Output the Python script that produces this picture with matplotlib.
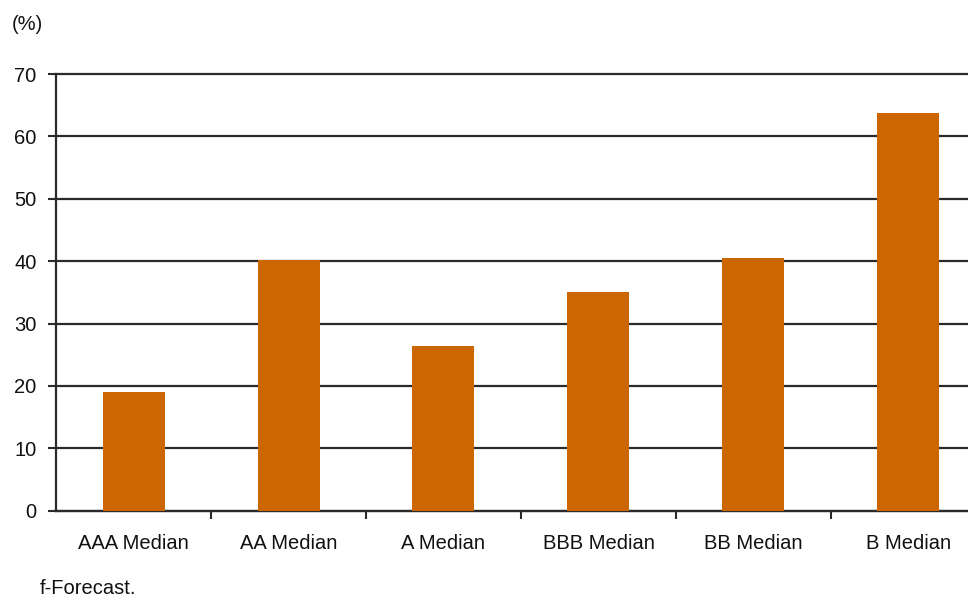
import numpy as np
import matplotlib.pyplot as plt
from matplotlib.ticker import FixedLocator

plt.rcParams['font.family'] = ['Liberation Sans', 'DejaVu Sans']

categories = ['AAA Median', 'AA Median', 'A Median', 'BBB Median', 'BB Median', 'B Median']
values = [19.1, 40.2, 26.4, 35.1, 40.5, 63.7]
yticks = [0, 10, 20, 30, 40, 50, 60, 70]

fig = plt.figure(figsize=(9.68, 6.0), dpi=100)
ax = fig.add_axes([56 / 968, 89.3 / 600, 930 / 968, 436.7 / 600])

x = np.arange(len(categories))
ax.set_axisbelow(True)
ax.yaxis.grid(True, color='#2a2a2a', linewidth=1.6)
ax.bar(x, values, width=0.4, color='#cc6600', zorder=3)

ax.set_xlim(-0.5, len(categories) - 0.5)
ax.set_ylim(0, 70)
ax.set_yticks(yticks)
# keep the full width of the top gridline
for gl in ax.get_ygridlines():
    gl.set_clip_on(False)

ax.set_xticks(x)
ax.set_xticklabels(categories)
ax.xaxis.set_minor_locator(FixedLocator(np.arange(0.5, len(categories) - 0.5, 1)))
ax.tick_params(axis='x', which='major', length=0, pad=17, labelsize=14.5, colors='#111111')
ax.tick_params(axis='x', which='minor', length=6, width=1.5, color='#2a2a2a', direction='out')
ax.tick_params(axis='y', length=6, width=1.5, color='#2a2a2a', pad=8, labelsize=14.5,
               labelcolor='#111111')

for side in ['top', 'right']:
    ax.spines[side].set_visible(False)
ax.spines['left'].set_color('#2a2a2a')
ax.spines['left'].set_linewidth(1.6)
ax.spines['bottom'].set_color('#2a2a2a')
ax.spines['bottom'].set_linewidth(1.6)

fig.text(12 / 968, 1 - 24 / 600, '(%)', fontsize=14.5, color='#111111', va='center')
fig.text(40 / 968, 1 - 598 / 600, 'f-Forecast.', fontsize=14.5, color='#111111', va='bottom')

fig.savefig('out.png', dpi=100)
